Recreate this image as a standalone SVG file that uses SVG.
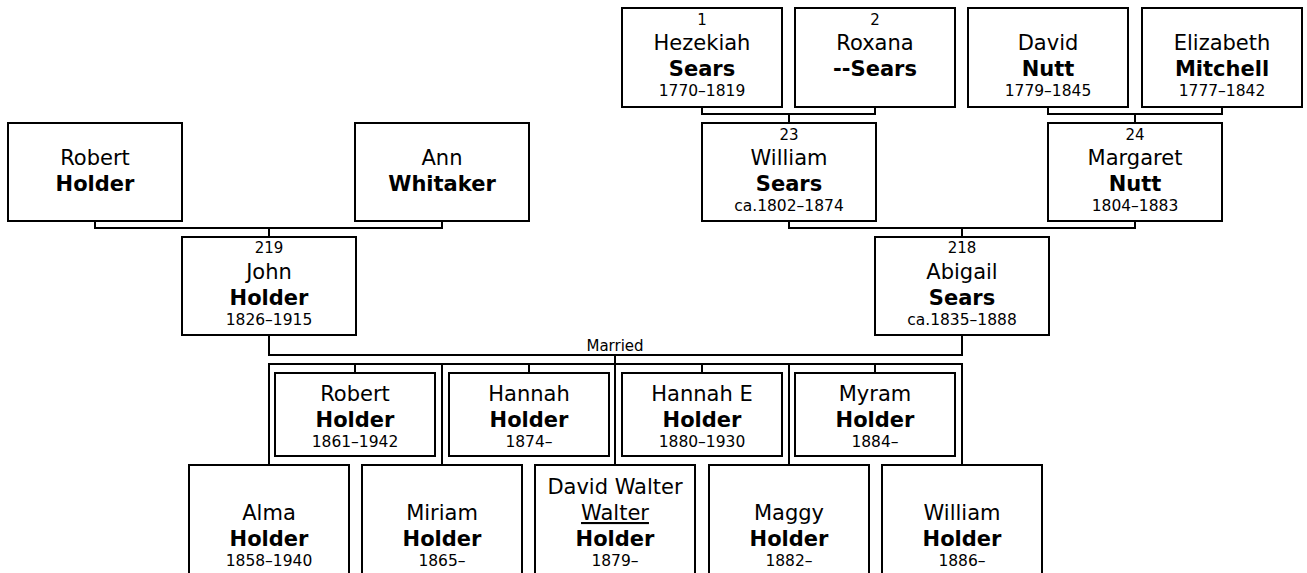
<svg xmlns="http://www.w3.org/2000/svg" width="1307" height="573" viewBox="0 0 1307 573">
<style>
.box{fill:#fff;stroke:#000;stroke-width:2}
.con{fill:none;stroke:#000;stroke-width:2}
text{font-family:"DejaVu Sans",Verdana,sans-serif;fill:#000;text-anchor:middle}
.n{font-size:15px}
.g{font-size:21px}
.s{font-size:21px;font-weight:bold}
.d{font-size:15.5px}
.m{font-size:15px}
</style>
<rect width="1307" height="573" fill="#fff"/>
<g id="connectors">
<path class="con" d="M702,107V114H875V107M789,114V123"/>
<path class="con" d="M1048,107V114H1222V107M1135,114V123"/>
<path class="con" d="M95,221V228H442V221M269,228V237"/>
<path class="con" d="M789,221V228H1135V221M962,228V237"/>
<path class="con" d="M269,335V355H962V335"/>
<text class="m" x="615" y="351">Married</text>
<path class="con" d="M615,355V465M269,465V364H962V465M442,364V465M789,364V465M355,364V373M529,364V373M702,364V373M875,364V373"/>
</g>
<g id="hezekiah"><rect class="box" x="622" y="8" width="160" height="99"/><text class="n" x="702" y="25">1</text><text class="g" x="702" y="50">Hezekiah</text><text class="s" x="702" y="76">Sears</text><text class="d" x="702" y="96">1770–1819</text></g>
<g id="roxana"><rect class="box" x="795" y="8" width="160" height="99"/><text class="n" x="875" y="25">2</text><text class="g" x="875" y="50">Roxana</text><text class="s" x="875" y="76">--Sears</text></g>
<g id="david"><rect class="box" x="968" y="8" width="160" height="99"/><text class="g" x="1048" y="50">David</text><text class="s" x="1048" y="76">Nutt</text><text class="d" x="1048" y="96">1779–1845</text></g>
<g id="elizabeth"><rect class="box" x="1142" y="8" width="160" height="99"/><text class="g" x="1222" y="50">Elizabeth</text><text class="s" x="1222" y="76">Mitchell</text><text class="d" x="1222" y="96">1777–1842</text></g>
<g id="robert-sr"><rect class="box" x="8" y="123" width="174" height="98"/><text class="g" x="95" y="165">Robert</text><text class="s" x="95" y="191">Holder</text></g>
<g id="ann"><rect class="box" x="355" y="123" width="174" height="98"/><text class="g" x="442" y="165">Ann</text><text class="s" x="442" y="191">Whitaker</text></g>
<g id="william-sears"><rect class="box" x="702" y="123" width="174" height="98"/><text class="n" x="789" y="140">23</text><text class="g" x="789" y="165">William</text><text class="s" x="789" y="191">Sears</text><text class="d" x="789" y="211">ca.1802–1874</text></g>
<g id="margaret"><rect class="box" x="1048" y="123" width="174" height="98"/><text class="n" x="1135" y="140">24</text><text class="g" x="1135" y="165">Margaret</text><text class="s" x="1135" y="191">Nutt</text><text class="d" x="1135" y="211">1804–1883</text></g>
<g id="john"><rect class="box" x="182" y="237" width="174" height="98"/><text class="n" x="269" y="253">219</text><text class="g" x="269" y="279">John</text><text class="s" x="269" y="305">Holder</text><text class="d" x="269" y="325">1826–1915</text></g>
<g id="abigail"><rect class="box" x="875" y="237" width="174" height="98"/><text class="n" x="962" y="253">218</text><text class="g" x="962" y="279">Abigail</text><text class="s" x="962" y="305">Sears</text><text class="d" x="962" y="325">ca.1835–1888</text></g>
<g id="robert"><rect class="box" x="275" y="373" width="160" height="83"/><text class="g" x="355" y="401">Robert</text><text class="s" x="355" y="427">Holder</text><text class="d" x="355" y="447">1861–1942</text></g>
<g id="hannah"><rect class="box" x="449" y="373" width="160" height="83"/><text class="g" x="529" y="401">Hannah</text><text class="s" x="529" y="427">Holder</text><text class="d" x="529" y="447">1874–</text></g>
<g id="hannah-e"><rect class="box" x="622" y="373" width="160" height="83"/><text class="g" x="702" y="401">Hannah E</text><text class="s" x="702" y="427">Holder</text><text class="d" x="702" y="447">1880–1930</text></g>
<g id="myram"><rect class="box" x="795" y="373" width="160" height="83"/><text class="g" x="875" y="401">Myram</text><text class="s" x="875" y="427">Holder</text><text class="d" x="875" y="447">1884–</text></g>
<g id="alma"><rect class="box" x="189" y="465" width="160" height="112"/><text class="g" x="269" y="520">Alma</text><text class="s" x="269" y="546">Holder</text><text class="d" x="269" y="566">1858–1940</text></g>
<g id="miriam"><rect class="box" x="362" y="465" width="160" height="112"/><text class="g" x="442" y="520">Miriam</text><text class="s" x="442" y="546">Holder</text><text class="d" x="442" y="566">1865–</text></g>
<g id="david-walter"><rect class="box" x="535" y="465" width="160" height="112"/><text class="g" x="615" y="494">David Walter</text><text class="g" x="615" y="520" text-decoration="underline">Walter</text><text class="s" x="615" y="546">Holder</text><text class="d" x="615" y="566">1879–</text></g>
<g id="maggy"><rect class="box" x="709" y="465" width="160" height="112"/><text class="g" x="789" y="520">Maggy</text><text class="s" x="789" y="546">Holder</text><text class="d" x="789" y="566">1882–</text></g>
<g id="william"><rect class="box" x="882" y="465" width="160" height="112"/><text class="g" x="962" y="520">William</text><text class="s" x="962" y="546">Holder</text><text class="d" x="962" y="566">1886–</text></g>
</svg>
